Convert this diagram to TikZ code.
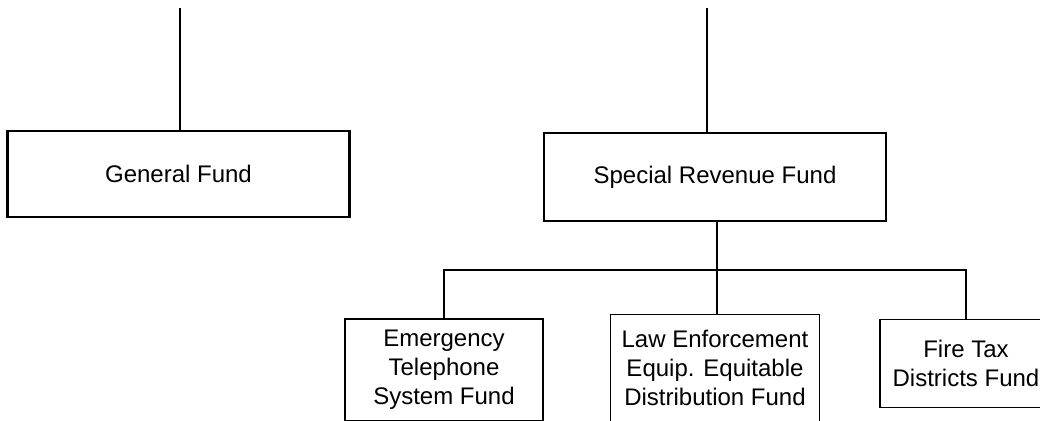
\documentclass[tikz,border=0pt]{standalone}
\usepackage{fontspec}
\setmainfont{Liberation Sans}
\usetikzlibrary{calc}
\tikzset{
    fundbox/.style = {draw, rectangle, line width=1.3pt, inner sep=0pt,
        minimum width=171pt, minimum height=44pt, align=center},
    subbox/.style = {draw, rectangle, line width=0.55pt, inner sep=0pt,
        minimum height=51pt, align=center},
    link/.style = {draw, line width=0.55pt}
}

\begin{document}
\begin{tikzpicture}[x=0.5pt, y=-0.5pt, font=\fontsize{12}{14.5}\selectfont]
        \useasboundingbox (0,0) rectangle (1040,420);
        \clip (0,0) rectangle (1040,420);
        % funds
        \node [fundbox, minimum height=43pt] (general) at (178.5,174) {General Fund};
        \coordinate (gtop) at (180,8);
        \draw [link] (gtop) -- (gtop |- general.north);
        \node [fundbox] (special) at (715,177) {Special Revenue Fund};
        \coordinate (stop) at (707,8);
        \draw [link] (stop) -- (stop |- special.north);
        % sub funds
        \node [subbox, minimum width=104.5pt, minimum height=53.5pt, below of=special, node distance=95.5pt] (law) {Law Enforcement\\Equip. Equitable\\Distribution Fund};
        \coordinate (bus) at (717,270);
        \draw [link] (bus |- special.south) -- (bus |- law.north);
        \node [subbox, minimum width=99pt, left of=law, node distance=135.5pt, yshift=-1pt] (emer) {Emergency\\Telephone\\System Fund};
        \node [subbox, minimum width=86pt, minimum height=44pt, right of=law, node distance=125.5pt, yshift=2.2pt] (fire) {Fire Tax\\Districts Fund};
        \draw [link] (emer.north) |- (bus) -| (fire.north);
    \end{tikzpicture}
\end{document}
